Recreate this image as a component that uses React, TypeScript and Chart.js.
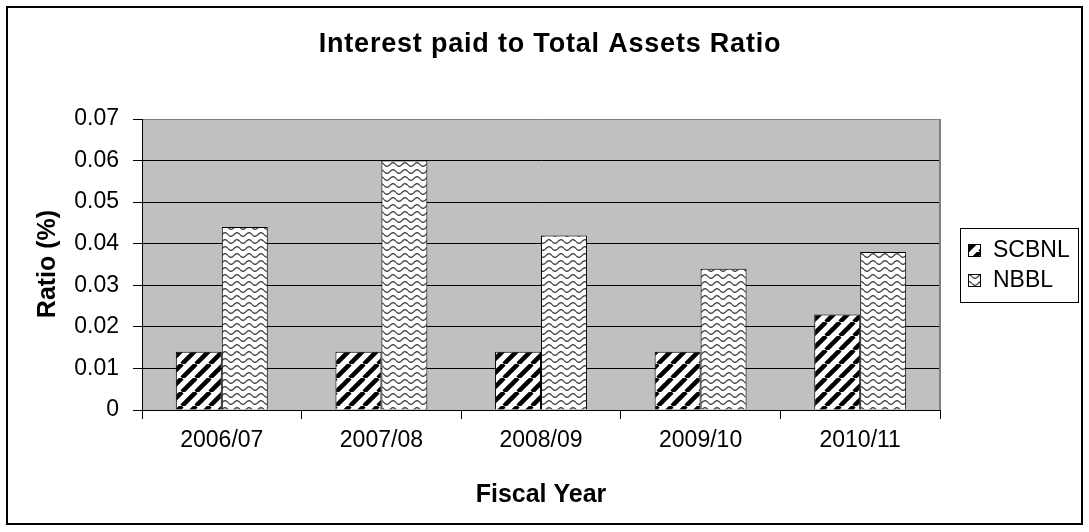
import React, { useEffect, useRef } from "react";
import { Chart, registerables } from "chart.js";

Chart.register(...registerables);

const categories = ["2006/07", "2007/08", "2008/09", "2009/10", "2010/11"];
const seriesNames = ["SCBNL", "NBBL"];
const scbnl = [0.014, 0.014, 0.014, 0.014, 0.023];
const nbbl = [0.044, 0.06, 0.042, 0.034, 0.038];
const yTickLabels = ["0", "0.01", "0.02", "0.03", "0.04", "0.05", "0.06", "0.07"];
const chartTitle = "Interest paid to Total Assets Ratio";
const yTitle = "Ratio (%)";
const xTitle = "Fiscal Year";

const FONT = "'Liberation Sans', Arial, sans-serif";

function makeDiag(ctx: CanvasRenderingContext2D): CanvasPattern {
  const s = 14;
  const c = document.createElement("canvas");
  c.width = s;
  c.height = s;
  const g = c.getContext("2d")!;
  g.fillStyle = "#fff";
  g.fillRect(0, 0, s, s);
  g.strokeStyle = "#000";
  g.lineWidth = 4.5;
  g.beginPath();
  for (const o of [-s, 0, s]) {
    g.moveTo(o, s);
    g.lineTo(o + s, 0);
  }
  g.stroke();
  return ctx.createPattern(c, "repeat")!;
}

function makeWave(ctx: CanvasRenderingContext2D): CanvasPattern {
  const w = 12;
  const h = 7;
  const c = document.createElement("canvas");
  c.width = w;
  c.height = h;
  const g = c.getContext("2d")!;
  g.fillStyle = "#fff";
  g.fillRect(0, 0, w, h);
  g.strokeStyle = "#4a4a4a";
  g.lineWidth = 1.4;
  g.beginPath();
  for (let x = 0; x <= w; x += 0.5) {
    const y = 3.5 + 1.8 * Math.sin((2 * Math.PI * x) / w);
    if (x === 0) g.moveTo(x, y);
    else g.lineTo(x, y);
  }
  g.stroke();
  return ctx.createPattern(c, "repeat")!;
}

export default function App() {
  const ref = useRef<HTMLCanvasElement>(null);

  useEffect(() => {
    const canvas = ref.current!;
    const ctx = canvas.getContext("2d")!;
    const diag = makeDiag(ctx);
    const wave = makeWave(ctx);
    const fills = [diag, wave];

    const decor = {
      id: "decor",
      beforeDraw(chart: any) {
        const c = chart.ctx;
        const a = chart.chartArea;
        c.save();
        c.fillStyle = "#fff";
        c.fillRect(0, 0, chart.width, chart.height);
        c.fillStyle = "#c0c0c0";
        c.fillRect(a.left, a.top, a.right - a.left, a.bottom - a.top);
        c.restore();
      },
      afterDraw(chart: any) {
        const c = chart.ctx;
        const a = chart.chartArea;
        c.save();
        // plot right border
        c.strokeStyle = "#808080";
        c.lineWidth = 2;
        c.beginPath();
        c.moveTo(a.right, a.top);
        c.lineTo(a.right, a.bottom);
        c.stroke();
        // outer frame
        c.strokeStyle = "#000";
        c.lineWidth = 2;
        c.strokeRect(7, 7, 1075, 517);
        // title
        c.fillStyle = "#000";
        c.textAlign = "center";
        c.textBaseline = "middle";
        c.font = `bold 27px ${FONT}`;
        (c as any).letterSpacing = "0.8px";
        c.fillText(chartTitle, 550, 45);
        (c as any).letterSpacing = "0px";
        // x title
        c.font = `bold 25px ${FONT}`;
        c.fillText(xTitle, (a.left + a.right) / 2, 495);
        // y title
        c.save();
        c.translate(48, 264);
        c.rotate(-Math.PI / 2);
        c.fillText(yTitle, 0, 0);
        c.restore();
        // legend
        c.lineWidth = 1;
        c.strokeStyle = "#000";
        c.strokeRect(960.5, 228.5, 118, 74);
        c.font = `23px ${FONT}`;
        c.textAlign = "left";
        seriesNames.forEach((n, i) => {
          const cy = 250 + i * 30;
          c.fillStyle = fills[i];
          c.fillRect(968, cy - 6, 12, 12);
          c.strokeRect(968.5, cy - 5.5, 12, 12);
          c.fillStyle = "#000";
          c.fillText(n, 993, cy + 1);
        });
        c.restore();
      },
    };

    const chart = new Chart(canvas, {
      type: "bar",
      data: {
        labels: categories,
        datasets: [
          {
            label: seriesNames[0],
            data: scbnl,
            backgroundColor: diag as any,
            borderColor: "#000",
            borderWidth: 1,
          },
          {
            label: seriesNames[1],
            data: nbbl,
            backgroundColor: wave as any,
            borderColor: "#000",
            borderWidth: 1,
          },
        ],
      },
      options: {
        responsive: false,
        animation: false,
        devicePixelRatio: 1,
        layout: { padding: { left: 0, top: 119, right: 149, bottom: 0 } },
        datasets: { bar: { barPercentage: 1, categoryPercentage: 0.576 } },
        plugins: {
          legend: { display: false },
          title: { display: false },
          tooltip: { enabled: false },
        },
        scales: {
          x: {
            offset: true,
            grid: {
              offset: true,
              drawOnChartArea: false,
              drawTicks: true,
              tickLength: 9,
              color: "#000",
              lineWidth: 1,
            },
            border: { display: true, color: "#000", width: 1 },
            ticks: {
              color: "#000",
              font: { family: FONT, size: 23 },
              padding: 8,
              maxRotation: 0,
            },
            afterFit: (s: any) => {
              s.height = 122;
            },
          },
          y: {
            min: 0,
            max: 0.07,
            ticks: {
              stepSize: 0.01,
              color: "#000",
              font: { family: FONT, size: 23 },
              padding: 14,
              callback: (_v: any, i: number) => yTickLabels[i],
            },
            grid: {
              color: (c: any) => (c.index === yTickLabels.length - 1 ? "#808080" : "#000"),
              tickColor: "#000",
              tickLength: 9,
              drawTicks: true,
              lineWidth: 1,
            },
            border: { display: true, color: "#000", width: 1 },
            afterFit: (s: any) => {
              s.width = 142;
            },
          },
        },
      },
      plugins: [decor],
    });
    return () => chart.destroy();
  }, []);

  return (
    <div style={{ position: "absolute", left: 0, top: 0, width: 1089, height: 532 }}>
      <canvas ref={ref} width={1089} height={532} style={{ display: "block" }} />
    </div>
  );
}
